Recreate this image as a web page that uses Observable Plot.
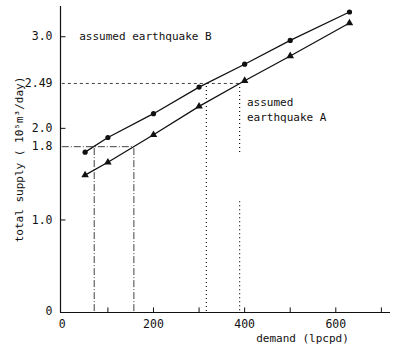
<!DOCTYPE html>
<html>
<head>
<meta charset="utf-8">
<script src="https://cdn.jsdelivr.net/npm/d3@7"></script>
<script src="https://cdn.jsdelivr.net/npm/@observablehq/plot@0.6"></script>
<style>
  body { margin: 0; background: white; }
</style>
</head>
<body>
<div id="chart"></div>
<script>
// Data
const demand = [50, 100, 200, 300, 400, 500, 630];
const supplyB = [1.74, 1.90, 2.16, 2.45, 2.70, 2.96, 3.27];
const supplyA = [1.49, 1.63, 1.93, 2.24, 2.52, 2.79, 3.15];

const yTickValues = [0, 1.0, 1.8, 2.0, 2.49, 3.0];
const yTickLabels = ["0", "1.0", "1.8", "2.0", "2.49", "3.0"];
const yTickMarks = [1, 2, 3];
const xTickValues = [0, 200, 400, 600];
const xTickLabels = ["0", "200", "400", "600"];
const xTickMarks = [100, 200, 300, 400, 500, 600, 700];

const levelHigh = 2.49;
const levelLow = 1.8;
const demandAtHigh = [316, 389];   // B, A crossing 2.49
const demandAtLow = [70, 157];     // B, A crossing 1.8
const gapA = [1.71, 1.20];         // gap in dotted line behind the label

const xDomain = [-4, 720];
const yDomain = [-0.01, 3.33];

const seriesB = demand.map((d, i) => ({demand: d, supply: supplyB[i]}));
const seriesA = demand.map((d, i) => ({demand: d, supply: supplyA[i]}));
const yTicks = yTickValues.map((v, i) => ({v, label: yTickLabels[i]}));
const xTicks = xTickValues.map((v, i) => ({v, label: xTickLabels[i]}));

const ink = "#111";

const chart = Plot.plot({
  width: 397,
  height: 348,
  marginLeft: 60,
  marginRight: 7,
  marginTop: 6,
  marginBottom: 36,
  x: {type: "linear", domain: xDomain, axis: null},
  y: {type: "linear", domain: yDomain, axis: null},
  style: {fontFamily: "DejaVu Sans Mono", fontSize: "11px", color: ink, background: "white", overflow: "visible"},
  marks: [
    // reference lines
    Plot.ruleY([levelHigh], {x1: 0, x2: demandAtHigh[1], stroke: ink, strokeWidth: 0.8, strokeDasharray: "3,3"}),
    Plot.ruleX([demandAtHigh[0]], {y1: 0, y2: levelHigh, stroke: ink, strokeWidth: 1.2, strokeDasharray: "1,3"}),
    Plot.ruleX([demandAtHigh[1]], {y1: levelHigh, y2: gapA[0], stroke: ink, strokeWidth: 1.2, strokeDasharray: "1,3"}),
    Plot.ruleX([demandAtHigh[1]], {y1: gapA[1], y2: 0, stroke: ink, strokeWidth: 1.2, strokeDasharray: "1,3"}),
    Plot.ruleY([levelLow], {x1: 0, x2: demandAtLow[1], stroke: ink, strokeWidth: 0.8, strokeDasharray: "7,2,1,2"}),
    Plot.ruleX(demandAtLow, {y1: 0, y2: levelLow, stroke: ink, strokeWidth: 0.8, strokeDasharray: "7,2,1,2"}),
    // axes lines
    Plot.ruleX([xDomain[0]], {y1: yDomain[0], y2: yDomain[1], stroke: ink, strokeWidth: 1.2}),
    Plot.ruleY([yDomain[0]], {x1: xDomain[0], x2: xDomain[1], stroke: ink, strokeWidth: 1.2}),
    // inward ticks
    Plot.ruleY(yTickMarks, {x1: xDomain[0], x2: 8, stroke: ink, strokeWidth: 1}),
    Plot.ruleX(xTickMarks, {y1: yDomain[0], y2: 0.04, stroke: ink, strokeWidth: 1}),
    // tick labels
    Plot.text(yTicks, {x: xDomain[0], y: "v", text: "label", textAnchor: "end", dx: -8, fill: ink, fontSize: 11.5}),
    Plot.text(xTicks, {x: "v", y: yDomain[0], text: "label", dy: 12, fill: ink, fontSize: 11.5}),
    // series
    Plot.line(seriesB, {x: "demand", y: "supply", stroke: ink, strokeWidth: 1.3}),
    Plot.dot(seriesB, {x: "demand", y: "supply", fill: ink, r: 2.6}),
    Plot.line(seriesA, {x: "demand", y: "supply", stroke: ink, strokeWidth: 1.3}),
    Plot.dot(seriesA, {x: "demand", y: "supply", fill: ink, symbol: "triangle", r: 2.8}),
    // annotations
    Plot.text(["assumed earthquake B"], {x: 37, y: 3.0, textAnchor: "start", fill: ink}),
    Plot.text(["assumed\nearthquake A"], {x: 405, y: 2.21, textAnchor: "start", lineHeight: 1.35, fill: ink}),
    // axis titles
    Plot.text(["total supply ( 10\u2075m\u00B3/day)"], {frameAnchor: "left", textAnchor: "middle", dx: -41, rotate: -90, fill: ink}),
    Plot.text(["demand (lpcpd)"], {frameAnchor: "bottom", textAnchor: "middle", dx: 77, dy: 29, fill: ink})
  ]
});

document.getElementById("chart").appendChild(chart);
</script>
</body>
</html>
